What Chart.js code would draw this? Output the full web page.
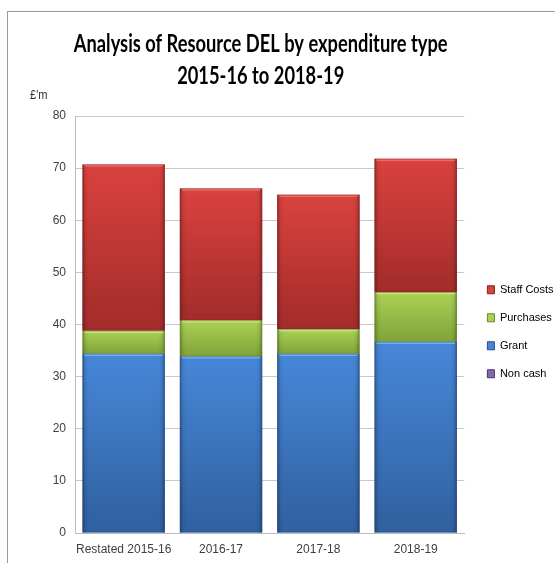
<!DOCTYPE html>
<html>
<head>
<meta charset="utf-8">
<script src="https://cdn.jsdelivr.net/npm/chart.js@4/dist/chart.umd.min.js"></script>
<style>
  html, body { margin: 0; padding: 0; overflow: hidden; background: #ffffff; }
  #wrap { position: relative; width: 555px; height: 563px; }
  #wrap canvas { position: absolute; left: 0; top: 0; }
  #frame { position: absolute; left: 7px; top: 11px; right: -10px; bottom: -10px;
           border-left: 1px solid #9a9a9a; border-top: 1px solid #9a9a9a; pointer-events: none; }
</style>
</head>
<body>
<div id="wrap">
  <canvas id="chart" width="555" height="563"></canvas>
  <div id="frame"></div>
</div>
<script>
// Resource DEL by expenditure type, £ million
const categories = ['Restated 2015-16', '2016-17', '2017-18', '2018-19'];
const nonCash    = [0, 0, 0, 0];
const grant      = [34.4, 33.9, 34.4, 36.7];
const purchases  = [4.4, 6.9, 4.7, 9.5];
const staffCosts = [31.9, 25.3, 25.8, 25.6];
const yTicks     = [0, 10, 20, 30, 40, 50, 60, 70, 80];
const titleLines = ['Analysis of Resource DEL by expenditure type', '2015-16 to 2018-19'];
const unitLabel  = "£'m";

const FONT = '"Liberation Sans", Arial, sans-serif';
const TITLE_FONT = 'Lato, "Liberation Sans", sans-serif';

// top / bottom / highlight shades for each series
const shades = {
  'Non cash':    { top: '#8768B0', bottom: '#5D4484', hl: '#B9A2DA', edge: '#4a3569' },
  'Grant':       { top: '#4787D8', bottom: '#30609F', hl: '#8EC2F6', edge: '#27508a' },
  'Purchases':   { top: '#ABD254', bottom: '#80A33A', hl: '#D8EE9C', edge: '#6b8a2f' },
  'Staff Costs': { top: '#DA423E', bottom: '#A22C2A', hl: '#EE8580', edge: '#862321' }
};

// vertical gradient spanning one stacked segment
function segmentFill(ctx) {
  const ds = ctx.dataset;
  const s = shades[ds.label];
  if (ctx.type !== 'data') return s.top;
  const chart = ctx.chart;
  const yScale = chart.scales.y;
  if (!yScale || !chart.chartArea) return s.top;
  let start = 0;
  for (let i = 0; i < ctx.datasetIndex; i++) start += chart.data.datasets[i].data[ctx.dataIndex];
  const end = start + ds.data[ctx.dataIndex];
  const yTop = yScale.getPixelForValue(end);
  const yBot = yScale.getPixelForValue(start);
  if (!isFinite(yTop) || !isFinite(yBot) || yTop === yBot) return s.top;
  const g = chart.ctx.createLinearGradient(0, yTop, 0, yBot);
  g.addColorStop(0, s.top);
  g.addColorStop(1, s.bottom);
  return g;
}

// bevel: light top edge, darker sides and outline on every bar segment
const bevel = {
  id: 'bevel',
  afterDatasetsDraw(chart) {
    const c = chart.ctx;
    chart.data.datasets.forEach((ds, di) => {
      const meta = chart.getDatasetMeta(di);
      if (meta.hidden) return;
      const s = shades[ds.label];
      meta.data.forEach(el => {
        const p = el.getProps(['x', 'y', 'base', 'width'], true);
        const top = Math.min(p.y, p.base), bot = Math.max(p.y, p.base);
        const h = bot - top;
        if (h < 0.5) return;
        const left = p.x - p.width / 2, w = p.width;
        c.save();
        const sg = c.createLinearGradient(left, 0, left + w, 0);
        sg.addColorStop(0, 'rgba(0,0,0,0.30)');
        sg.addColorStop(0.04, 'rgba(0,0,0,0.06)');
        sg.addColorStop(0.08, 'rgba(0,0,0,0)');
        sg.addColorStop(0.92, 'rgba(0,0,0,0)');
        sg.addColorStop(0.96, 'rgba(0,0,0,0.06)');
        sg.addColorStop(1, 'rgba(0,0,0,0.30)');
        c.fillStyle = sg;
        c.fillRect(left, top, w, h);
        c.fillStyle = s.hl;
        c.globalAlpha = 0.9;
        c.fillRect(left + 2, top, w - 4, Math.min(2, h));
        c.globalAlpha = 0.55;
        c.strokeStyle = s.edge;
        c.lineWidth = 1;
        c.strokeRect(left + 0.5, top + 0.5, w - 1, h - 1);
        c.restore();
      });
    });
  }
};

// two-line heading (narrowed to the plot width) and the unit label
const headings = {
  id: 'headings',
  afterDraw(chart) {
    const c = chart.ctx, a = chart.chartArea;
    c.save();
    c.fillStyle = '#000000';
    c.textAlign = 'center';
    c.textBaseline = 'middle';
    c.font = 'bold 25px ' + TITLE_FONT;
    const cx = (a.left + a.right) / 2 - 9;
    const wanted = (a.right - a.left) * 0.96;
    const sx = Math.min(1, wanted / c.measureText(titleLines[0]).width);
    titleLines.forEach((t, i) => {
      c.save();
      c.translate(cx, a.top - 72 + i * 32);
      c.scale(sx, 1);
      c.fillText(t, 0, 0);
      c.restore();
    });
    c.font = '13px ' + FONT;
    c.fillStyle = '#333333';
    c.textAlign = 'left';
    c.save();
    c.translate(a.left - 45, a.top - 21);
    c.scale(0.85, 1);
    c.fillText(unitLabel, 0, 0);
    c.restore();
    c.restore();
  }
};

// nudge the legend column right of the plot and up a little
const legendShift = {
  id: 'legendShift',
  afterLayout(chart) {
    const l = chart.legend;
    if (l) { l.left += 6; l.right += 6; l.top -= 9; l.bottom -= 9; }
  }
};

const series = [
  { label: 'Non cash', data: nonCash },
  { label: 'Grant', data: grant },
  { label: 'Purchases', data: purchases },
  { label: 'Staff Costs', data: staffCosts }
];

new Chart(document.getElementById('chart'), {
  type: 'bar',
  data: {
    labels: categories,
    datasets: series.map(s => ({
      label: s.label,
      data: s.data,
      backgroundColor: segmentFill,
      borderWidth: 0,
      borderColor: shades[s.label].edge,
      categoryPercentage: 1.0,
      barPercentage: 0.846
    }))
  },
  options: {
    responsive: false,
    animation: false,
    layout: { padding: { top: 116, left: 40, right: -2.5, bottom: -2.5 } },
    plugins: {
      title: { display: false },
      tooltip: { enabled: false },
      legend: {
        position: 'right',
        reverse: true,
        labels: {
          boxWidth: 7,
          boxHeight: 8,
          padding: 17,
          color: '#1a1a1a',
          font: { family: FONT, size: 11 },
          generateLabels(chart) {
            return chart.data.datasets.map((ds, i) => ({
              text: ds.label,
              fillStyle: shades[ds.label].top,
              strokeStyle: shades[ds.label].edge,
              lineWidth: 1,
              hidden: false,
              datasetIndex: i
            }));
          }
        }
      }
    },
    scales: {
      x: {
        stacked: true,
        grid: { display: false, drawTicks: false },
        border: { color: '#bdbdbd' },
        ticks: { color: '#404040', font: { family: FONT, size: 12 }, padding: 9, maxRotation: 0, minRotation: 0, autoSkip: false }
      },
      y: {
        stacked: true,
        min: 0,
        max: 80,
        afterBuildTicks(scale) { scale.ticks = yTicks.map(v => ({ value: v })); },
        afterFit(scale) { scale.width = 35; },
        grid: { color: '#c9c9c9', drawTicks: false },
        border: { color: '#bdbdbd' },
        ticks: { color: '#404040', font: { family: FONT, size: 12 }, padding: 9 }
      }
    }
  },
  plugins: [bevel, headings, legendShift]
});
</script>
</body>
</html>
